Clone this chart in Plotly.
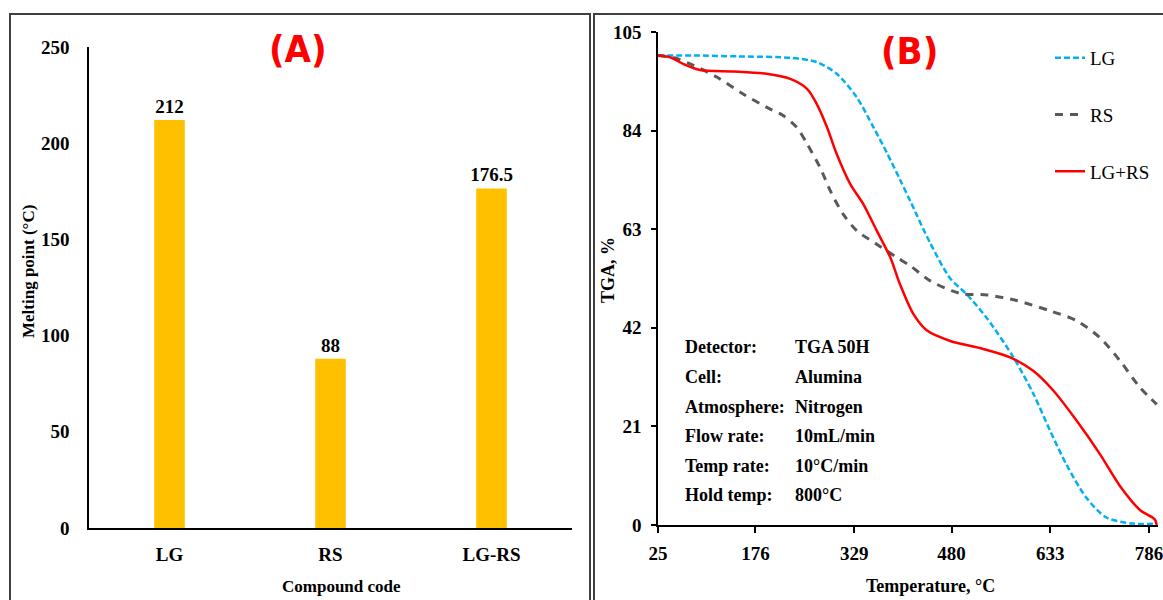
import plotly.graph_objects as go

W, H = 1163, 600

# ---------- Panel A data ----------
compounds = ["LG", "RS", "LG-RS"]
melting_points = [212, 88, 176.5]
melting_labels = ["212", "88", "176.5"]
a_ticks = [0, 50, 100, 150, 200, 250]

# ---------- Panel B data ----------
lg_temp = [25, 80, 150, 230, 271, 302, 333, 359, 380, 400, 416, 447, 478, 503, 534, 576, 607, 633, 658, 689, 720, 761, 798]
lg_tga = [100, 100, 99.8, 99.5, 98.6, 96.1, 91.1, 84.7, 79.2, 73.6, 69, 60, 52.5, 49.2, 44.2, 35.7, 27.9, 20, 12.9, 5.8, 1.6, 0.3, 0.3]

rs_temp = [25, 50, 80, 116, 157, 193, 219, 240, 256, 276, 292, 312, 333, 364, 395, 416, 447, 480, 498, 535, 581, 633, 674, 710, 741, 772, 798]
rs_tga = [100, 99.5, 97.9, 95.4, 91.8, 89, 87.2, 84.7, 81.2, 76.2, 71.2, 66.2, 62.7, 59.8, 57, 55.2, 52, 49.9, 49.2, 49, 47.8, 45.6, 43.5, 39.9, 35, 29.3, 25.7]

mix_temp = [25, 44, 64, 90, 142, 193, 230, 256, 271, 287, 302, 323, 343, 364, 385, 400, 421, 442, 478, 529, 571, 607, 638, 674, 710, 741, 772, 795, 798]
mix_tga = [100, 99.6, 98.2, 96.9, 96.6, 96.1, 95, 92.9, 89.7, 84.7, 79, 72.6, 68.4, 62.7, 57, 51.3, 44.9, 41.4, 39.2, 37.5, 35.7, 32.8, 28.6, 22.2, 15.1, 8.3, 3.2, 1.2, 0]

b_xticks = [25, 176, 329, 480, 633, 786]
b_yticks = [0, 21, 42, 63, 84, 105]

info_labels = ["Detector:", "Cell:", "Atmosphere:", "Flow rate:", "Temp rate:", "Hold temp:"]
info_values = ["TGA 50H", "Alumina", "Nitrogen", "10mL/min", "10°C/min", "800°C"]

SERIF = "Liberation Serif, Times New Roman, serif"
NARROW = "Liberation Sans Narrow, DejaVu Sans Condensed, Arial Narrow, Liberation Sans, sans-serif"

def px_x(x):
    return x / W

def px_y(y):
    return 1 - y / H

fig = go.Figure()

fig.add_trace(go.Bar(
    x=compounds, y=melting_points, text=melting_labels, textposition="outside",
    constraintext="none",
    textfont=dict(family=SERIF, size=19, color="black", weight="bold"),
    marker=dict(color="#FFC000", line=dict(width=0)), width=0.19,
    cliponaxis=False, showlegend=False, xaxis="x", yaxis="y",
))

fig.add_trace(go.Scatter(
    x=lg_temp, y=lg_tga, mode="lines", name="LG", legendgroup="a",
    line=dict(color="#00B0F0", width=2.5, dash="6px,3px", shape="spline", smoothing=0.8),
    xaxis="x2", yaxis="y2",
))
fig.add_trace(go.Scatter(
    x=rs_temp, y=rs_tga, mode="lines", name="RS", legendgroup="b",
    line=dict(color="#595959", width=3, dash="8px,7px", shape="spline", smoothing=0.8),
    xaxis="x2", yaxis="y2",
))
fig.add_trace(go.Scatter(
    x=mix_temp, y=mix_tga, mode="lines", name="LG+RS", legendgroup="c",
    line=dict(color="#FF0000", width=2.5, shape="spline", smoothing=0.8),
    xaxis="x2", yaxis="y2",
))

tickfont = dict(family=SERIF, size=19, color="black", weight="bold")

fig.update_layout(
    width=W, height=H,
    margin=dict(l=0, r=0, t=0, b=0, autoexpand=False),
    paper_bgcolor="white", plot_bgcolor="white",
    xaxis=dict(domain=[px_x(89), px_x(572)], range=[-0.5, 2.5], type="category",
               showline=True, linecolor="black", linewidth=2, ticks="",
               tickfont=tickfont, showgrid=False, zeroline=False, anchor="y",
               automargin=False, ticklabelstandoff=8),
    yaxis=dict(domain=[px_y(528), px_y(47)], range=[0, 250], tickvals=a_ticks,
               showline=True, linecolor="black", linewidth=1.5, ticks="",
               tickfont=tickfont, showgrid=False, zeroline=False, anchor="x",
               automargin=False, ticklabelstandoff=14),
    xaxis2=dict(domain=[px_x(658), px_x(1158)], range=[25, 800], tickvals=b_xticks,
                showline=True, linecolor="black", linewidth=2, ticks="outside",
                ticklen=6, tickwidth=1.5, tickcolor="black",
                tickfont=tickfont, showgrid=False, zeroline=False, anchor="y2",
                automargin=False, ticklabelstandoff=4, ticklabeloverflow="allow"),
    yaxis2=dict(domain=[px_y(525), px_y(32)], range=[0, 105], tickvals=b_yticks,
                showline=True, linecolor="black", linewidth=1.5, ticks="outside",
                ticklen=5, tickwidth=1.5, tickcolor="black",
                tickfont=tickfont, showgrid=False, zeroline=False, anchor="x2",
                automargin=False, ticklabelstandoff=6),
    legend=dict(x=px_x(1050), y=px_y(39), xanchor="left", yanchor="top",
                bgcolor="rgba(0,0,0,0)", tracegroupgap=29, traceorder="grouped",
                font=dict(family=SERIF, size=19, color="black")),
    showlegend=True,
)

shapes = [
    dict(type="rect", xref="paper", yref="paper", x0=px_x(10), x1=px_x(590), y0=-0.05, y1=px_y(14),
         line=dict(color="#404040", width=2)),
    dict(type="rect", xref="paper", yref="paper", x0=px_x(594), x1=px_x(1170), y0=-0.05, y1=px_y(14),
         line=dict(color="#404040", width=2)),
]
fig.update_layout(shapes=shapes)

def note(text, x, y, size=18, angle=0, xanchor="center", color="black", family=SERIF):
    return dict(text=text, x=px_x(x), y=px_y(y), xref="paper", yref="paper", showarrow=False,
                xanchor=xanchor, yanchor="middle", textangle=angle,
                font=dict(family=family, size=size, color=color, weight="bold"))

ann = [
    note("(A)", 298, 49, size=38, color="#FF0000", family=NARROW),
    note("(B)", 909, 51, size=38, color="#FF0000", family=NARROW),
    note("Melting point (°C)", 28, 272, size=17, angle=-90),
    note("Compound code", 341, 586, size=17),
    note("TGA, %", 608, 270, size=18, angle=-90),
    note("Temperature, °C", 930, 586, size=18),
]
info_y = [347, 377, 407, 436, 466, 495]
for lab, val, yy in zip(info_labels, info_values, info_y):
    ann.append(note(lab, 683, yy, xanchor="left"))
    ann.append(note(val, 793, yy, xanchor="left"))
fig.update_layout(annotations=ann)

fig.write_html("out.html")
